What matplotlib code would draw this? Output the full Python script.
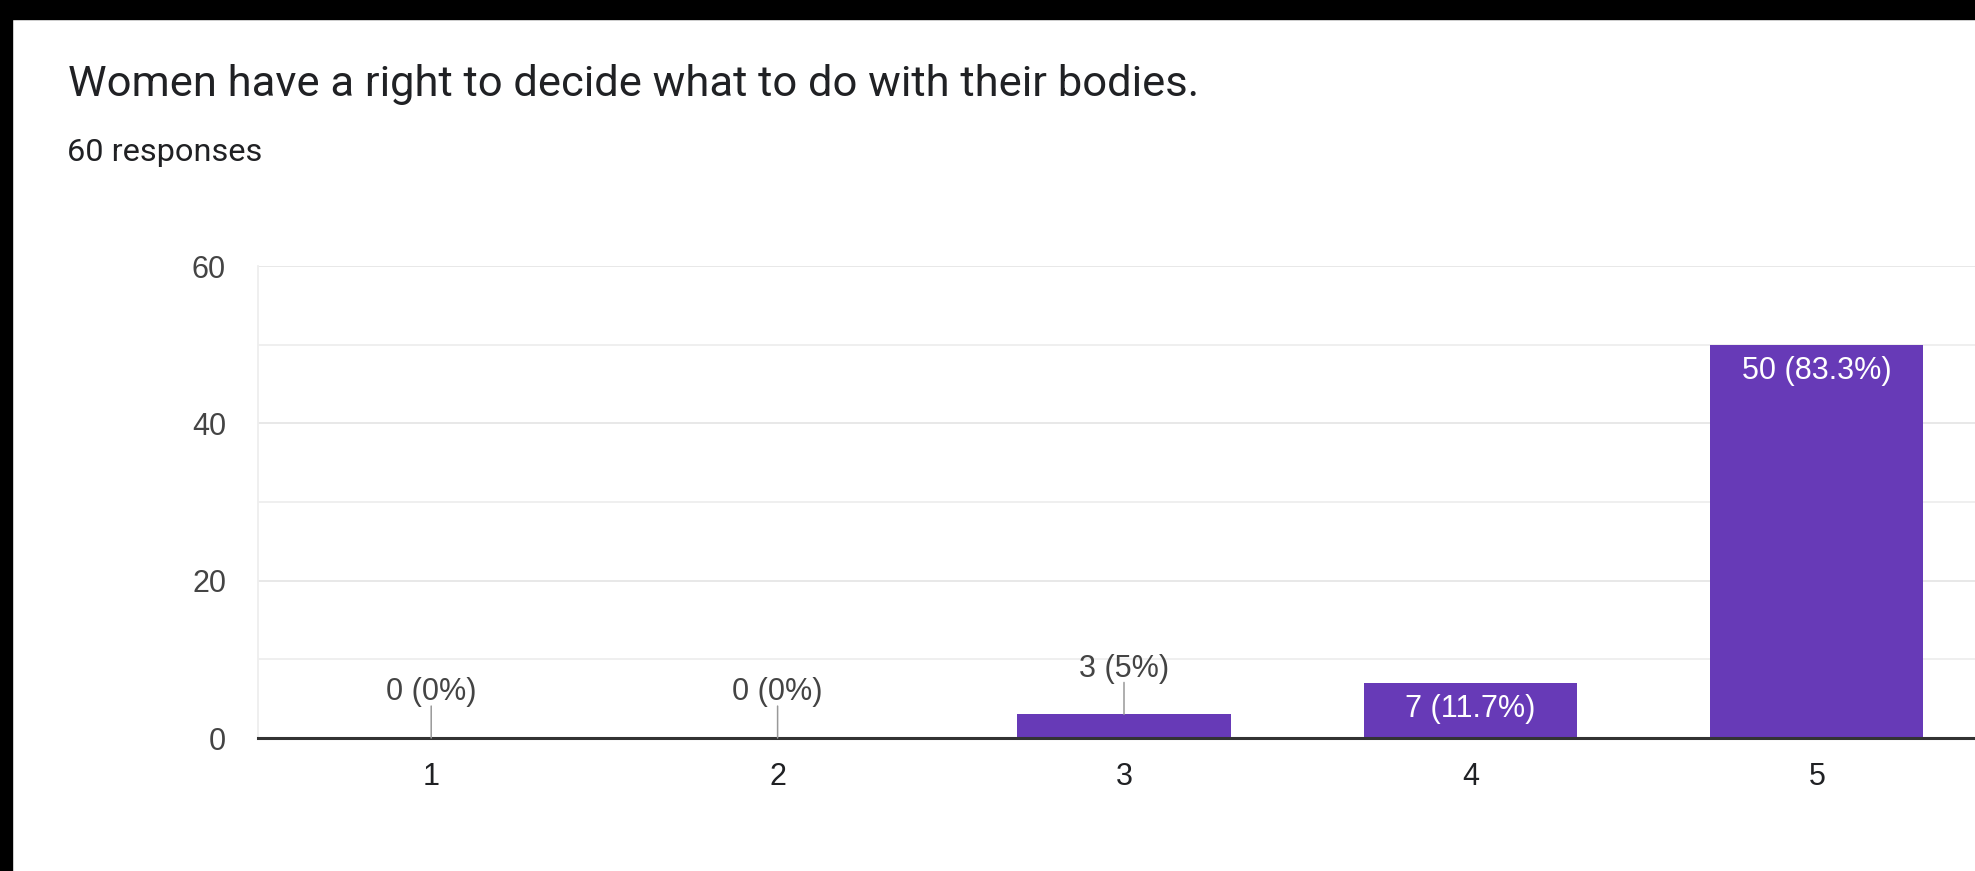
import numpy as np
import matplotlib
matplotlib.use('Agg')
import matplotlib.pyplot as plt
from matplotlib.patches import Rectangle

# survey answers on a 1-5 scale
categories = ["1", "2", "3", "4", "5"]
counts = [0, 0, 3, 7, 50]
percents = ["0%", "0%", "5%", "11.7%", "83.3%"]

title = "Women have a right to decide what to do with their bodies."
subtitle = "60 responses"

BAR_COLOR = '#673ab7'
TEXT_DARK = '#202124'
TEXT_GRAY = '#444444'

W, H = 1975, 871
fig = plt.figure(figsize=(W / 100, H / 100), dpi=100)
fig.patch.set_facecolor('white')

# black strips on the left and top edges of the screenshot
fig.add_artist(Rectangle((0, 0), 12 / W, 1, transform=fig.transFigure,
                         color='black', zorder=10))
fig.add_artist(Rectangle((0, 1 - 19 / H), 1, 19 / H, transform=fig.transFigure,
                         color='black', zorder=10))

t_title = fig.text(68 / W, 1 - 96 / H, title, fontsize=30, family='Roboto',
                   color=TEXT_DARK, va='baseline', ha='left')
t_sub = fig.text(67 / W, 1 - 161 / H, subtitle, fontsize=18, family='Roboto',
                 color=TEXT_DARK, va='baseline', ha='left')


def fit_width(txt, target_px):
    """Scale a text's font size so it spans target_px pixels."""
    fig.canvas.draw()
    w = txt.get_window_extent(renderer=fig.canvas.get_renderer()).width
    txt.set_fontsize(txt.get_fontsize() * target_px / w)


fit_width(t_title, 1127)
fit_width(t_sub, 195)

ax = fig.add_axes([258 / W, (H - 738) / H, 1732 / W, 472 / H])
x = np.arange(1, len(categories) + 1)
ax.bar(x, counts, width=0.615, color=BAR_COLOR, zorder=3)

ax.set_xlim(0.5, 5.5)
ax.set_ylim(0, 60)
ax.set_yticks([0, 20, 40, 60])
ax.set_yticks([10, 30, 50], minor=True)
ax.set_xticks(x)
ax.set_xticklabels(categories)

ax.grid(axis='y', which='major', color='#e6e6e6', linewidth=1.3, zorder=0)
ax.grid(axis='y', which='minor', color='#eeeeee', linewidth=1.3, zorder=0)
ax.tick_params(axis='both', which='both', length=0)
ax.tick_params(axis='x', pad=17, labelsize=22, labelcolor=TEXT_DARK)
ax.tick_params(axis='y', pad=23, labelsize=22, labelcolor=TEXT_GRAY)
for lab in ax.get_xticklabels() + ax.get_yticklabels():
    lab.set_family('Liberation Sans')

for side in ['top', 'right']:
    ax.spines[side].set_visible(False)
ax.spines['left'].set_color('#eeeeee')
ax.spines['left'].set_linewidth(1.3)
ax.spines['bottom'].set_color('#333333')
ax.spines['bottom'].set_linewidth(2.2)
ax.spines['bottom'].set_zorder(4)

# value labels: inside tall bars, above short ones with a leader line
for xi, c, p in zip(x, counts, percents):
    label = f"{c} ({p})"
    if c >= 5:
        ax.annotate(label, (xi, c), xytext=(0, -19), textcoords='offset points',
                    ha='center', va='center', fontsize=22, color='white',
                    family='Liberation Sans', zorder=5)
    else:
        ax.annotate('', (xi, c), xytext=(0, 23), textcoords='offset points',
                    arrowprops=dict(arrowstyle='-', color='#999999', lw=1.1,
                                    shrinkA=0, shrinkB=0), zorder=5)
        ax.annotate(label, (xi, c), xytext=(0, 33), textcoords='offset points',
                    ha='center', va='center', fontsize=22, color=TEXT_GRAY,
                    family='Liberation Sans', zorder=5)

fig.savefig('out.png', dpi=100, facecolor='white')
